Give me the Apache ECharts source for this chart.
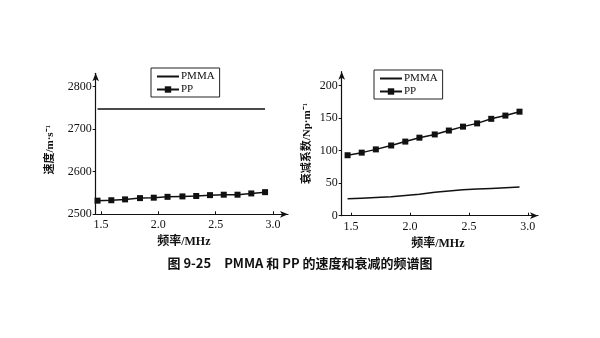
<!DOCTYPE html>
<html><head><meta charset="utf-8">
<script src="https://cdn.jsdelivr.net/npm/echarts@6/dist/echarts.min.js"></script>
<style>html,body{margin:0;padding:0;background:#fff}#c{width:600px;height:338px}</style>
</head><body><div id="c"></div>
<script>
const freq = [1.47,1.59,1.71,1.84,1.96,2.08,2.21,2.33,2.45,2.57,2.69,2.81,2.93];
const speedPMMA = [2747,2747,2747,2747,2747,2747,2747,2747,2747,2747,2747,2747,2747];
const speedPP = [2532,2533,2535,2538,2539,2541,2542,2543,2545,2546,2546,2549,2552];
const attPMMA = [26,27,28,29,31,33,36,38,40,41,42,43,44];
const attPP = [93,97,102,108,114,120,125,131,137,142,149,154,160];
const xTicks = [1.5,2.0,2.5,3.0];
const speedTicks = [2500,2600,2700,2800];
const attTicks = [0,50,100,150,200];
const caption = '图 9-25　PMMA 和 PP 的速度和衰减的频谱图';

const pair = (xs, ys) => xs.map((x, i) => [x, ys[i]]);
const serif = 'Liberation Serif';
const mixed = '"Liberation Serif", "Noto Sans CJK SC"';
const axisCommon = {
  axisLine: {show: true, onZero: false, lineStyle: {color: '#111', width: 1.2}, symbol: ['none', 'arrow'], symbolSize: [5, 8]},
  splitLine: {show: false},
};
function xAx(gi, min, max, pad) {
  return Object.assign({}, axisCommon, {
    type: 'value', gridIndex: gi, min: min, max: max,
    name: '频率/MHz', nameLocation: 'middle', nameGap: 22,
    nameTextStyle: {fontFamily: mixed, fontWeight: 'bold', fontSize: 12, color: '#111', padding: pad},
    axisTick: {show: true, customValues: xTicks, length: 3, inside: true, lineStyle: {color: '#111'}},
    axisLabel: {customValues: xTicks, formatter: v => v.toFixed(1), fontFamily: serif, fontSize: 12, color: '#111', margin: 5}
  });
}
function yAx(gi, min, max, ticks, name, gap, pad) {
  return Object.assign({}, axisCommon, {
    type: 'value', gridIndex: gi, min: min, max: max,
    name: name, nameLocation: 'middle', nameGap: gap, nameRotate: 90,
    nameTextStyle: {fontFamily: mixed, fontWeight: 'bold', fontSize: 11, color: '#111', padding: pad},
    axisTick: {show: true, customValues: ticks, length: 3, lineStyle: {color: '#111'}},
    axisLabel: {customValues: ticks, formatter: v => String(v), fontFamily: serif, fontSize: 12, color: '#111', margin: 4}
  });
}
function lineSeries(name, gi, data, marker) {
  return {
    name: name, type: 'line', xAxisIndex: gi, yAxisIndex: gi, data: data,
    symbol: marker ? 'rect' : 'none', symbolSize: 6, showSymbol: marker,
    lineStyle: {color: '#111', width: 1.5}, itemStyle: {color: '#111'},
    animation: false
  };
}
function legend(left, top) {
  return {
    data: [{name: 'PMMA', itemStyle: {opacity: 0}}, 'PP'], left: left, top: top, orient: 'vertical',
    borderColor: '#222', borderWidth: 1, padding: [3, 5, 2, 5], itemGap: 2,
    itemWidth: 22, itemHeight: 8,
    textStyle: {fontFamily: serif, fontSize: 11, color: '#111', padding: [0, 0, 0, -3]},
    selectedMode: false
  };
}
const chart = echarts.init(document.getElementById('c'), null, {renderer: 'canvas'});
chart.setOption({
  backgroundColor: '#fff',
  animation: false,
  grid: [
    {left: 95.7, top: 73.3, width: 192.3, height: 141},
    {left: 341.7, top: 71.7, width: 196.3, height: 144}
  ],
  legend: [legend(151, 68), legend(374, 70)],
  xAxis: [xAx(0, 1.454, 3.13, [0, 16, 0, 0]), xAx(1, 1.42, 3.087, [0, 4, 0, 0])],
  yAxis: [
    yAx(0, 2500, 2831, speedTicks, '速度/m·s⁻¹', 40, [0, 12, 0, 0]),
    yAx(1, 0, 221.5, attTicks, '衰减系数/Np·m⁻¹', 29, [0, 0, 0, 0])
  ],
  series: [
    lineSeries('PMMA', 0, pair(freq, speedPMMA), false),
    lineSeries('PP', 0, pair(freq, speedPP), true),
    lineSeries('PMMA', 1, pair(freq, attPMMA), false),
    lineSeries('PP', 1, pair(freq, attPP), true)
  ],
  graphic: [{
    type: 'text', left: 'center', top: 257,
    style: {text: caption, font: 'bold 13px "Noto Sans CJK SC"', fill: '#111'}
  }]
});
</script></body></html>
